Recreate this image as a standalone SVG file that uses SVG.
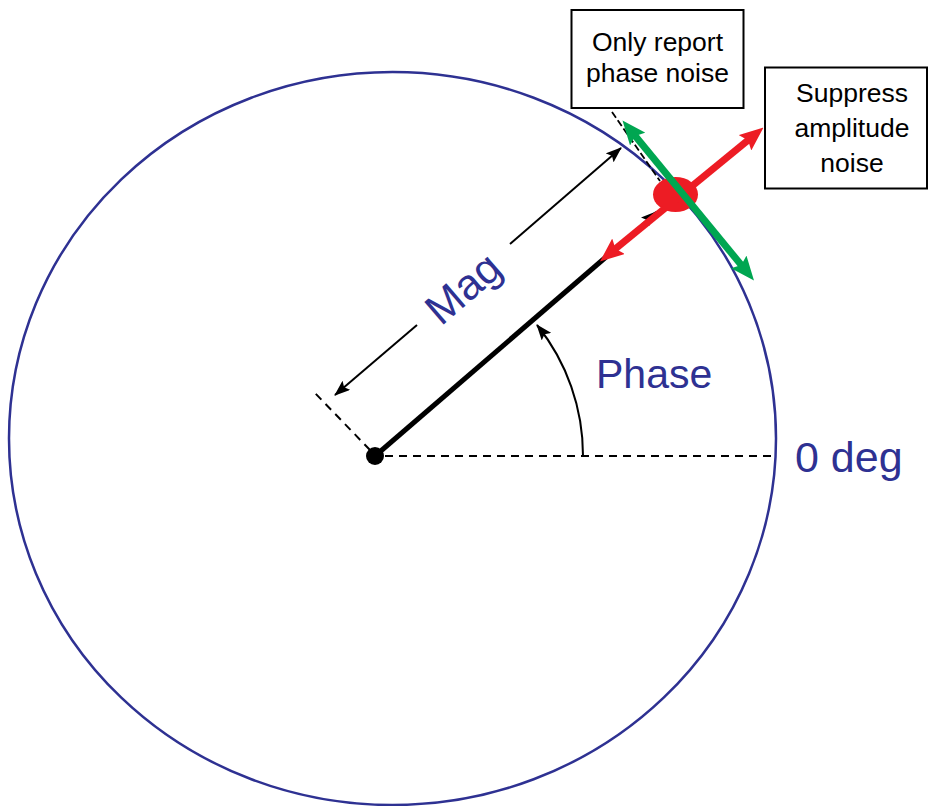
<svg xmlns="http://www.w3.org/2000/svg" width="929" height="806" viewBox="0 0 929 806">
<style>
.blue{fill:#2e3192;font-family:"Liberation Sans",Arial,sans-serif}
.box{fill:#fff;stroke:#000;stroke-width:2}
.btxt{fill:#000;font-family:"Liberation Sans",Arial,sans-serif;font-size:26.5px;text-anchor:middle}
.dash{stroke:#000;stroke-width:2;stroke-dasharray:8,6;fill:none}
.thin{stroke:#000;stroke-width:2;fill:none}
</style>
<defs>
<marker id="ak" markerUnits="userSpaceOnUse" viewBox="0 0 16 12" markerWidth="16" markerHeight="12" refX="15" refY="6" orient="auto-start-reverse">
<path d="M0,0 L16,6 L0,12 L3,6 z" fill="#000"/>
</marker>
<marker id="ar" markerUnits="userSpaceOnUse" viewBox="0 0 24 20" markerWidth="24" markerHeight="20" refX="13" refY="10" orient="auto-start-reverse">
<path d="M0,0 L24,10 L0,20 L4,10 z" fill="#ed1c24"/>
</marker>
<marker id="ag" markerUnits="userSpaceOnUse" viewBox="0 0 24 20" markerWidth="24" markerHeight="20" refX="13" refY="10" orient="auto-start-reverse">
<path d="M0,0 L24,10 L0,20 L4,10 z" fill="#00a651"/>
</marker>
</defs>
<rect width="929" height="806" fill="#fff"/>
<g id="circle">
<ellipse cx="392.5" cy="438.5" rx="383.5" ry="366.5" fill="none" stroke="#2e3192" stroke-width="2.5"/>
</g>
<g id="connectors">
<line class="dash" x1="385" y1="456" x2="776" y2="456"/>
<line class="dash" x1="370" y1="450" x2="313" y2="391"/>
<line class="thin" x1="600" y1="262" x2="656" y2="212" marker-end="url(#ak)"/>
<line x1="375" y1="456" x2="606" y2="257" stroke="#000" stroke-width="5"/>
<line class="thin" x1="510" y1="244" x2="621" y2="148" marker-end="url(#ak)"/>
<line class="thin" x1="417" y1="325" x2="335" y2="395" marker-end="url(#ak)"/>
<path class="thin" d="M583,456 A208,208 0 0 0 537,325" marker-end="url(#ak)"/>
<line x1="612" y1="112" x2="660" y2="181" stroke="#000" stroke-width="1.8" stroke-dasharray="7,3"/>
</g>
<g id="origin">
<circle cx="375" cy="456" r="9" fill="#000"/>
</g>
<g id="phasor-point">
<ellipse cx="675.5" cy="194.5" rx="22.5" ry="17.5" fill="#ed1c24"/>
</g>
<g id="amplitude-arrow">
<line x1="608.5" y1="254.5" x2="755" y2="134.5" stroke="#ed1c24" stroke-width="7" marker-start="url(#ar)" marker-end="url(#ar)"/>
</g>
<g id="phase-arrow">
<line x1="629.5" y1="129" x2="747" y2="272" stroke="#00a651" stroke-width="7" marker-start="url(#ag)" marker-end="url(#ag)"/>
</g>
<g id="mag-label">
<text class="blue" font-size="43" text-anchor="middle" transform="translate(463,288) rotate(-40.7)" dy="15">Mag</text>
</g>
<g id="phase-label">
<text class="blue" x="596" y="388" font-size="41">Phase</text>
</g>
<g id="zero-label">
<text class="blue" x="795" y="472" font-size="43">0 deg</text>
</g>
<g id="box-phase-noise">
<rect class="box" x="571.5" y="10" width="172" height="98"/>
<text class="btxt" x="657.5" y="51">Only report</text>
<text class="btxt" x="657.5" y="82">phase noise</text>
</g>
<g id="box-amplitude-noise">
<rect class="box" x="765" y="67.5" width="162" height="121"/>
<text class="btxt" x="852" y="102">Suppress</text>
<text class="btxt" x="852" y="137">amplitude</text>
<text class="btxt" x="852" y="172">noise</text>
</g>
</svg>
